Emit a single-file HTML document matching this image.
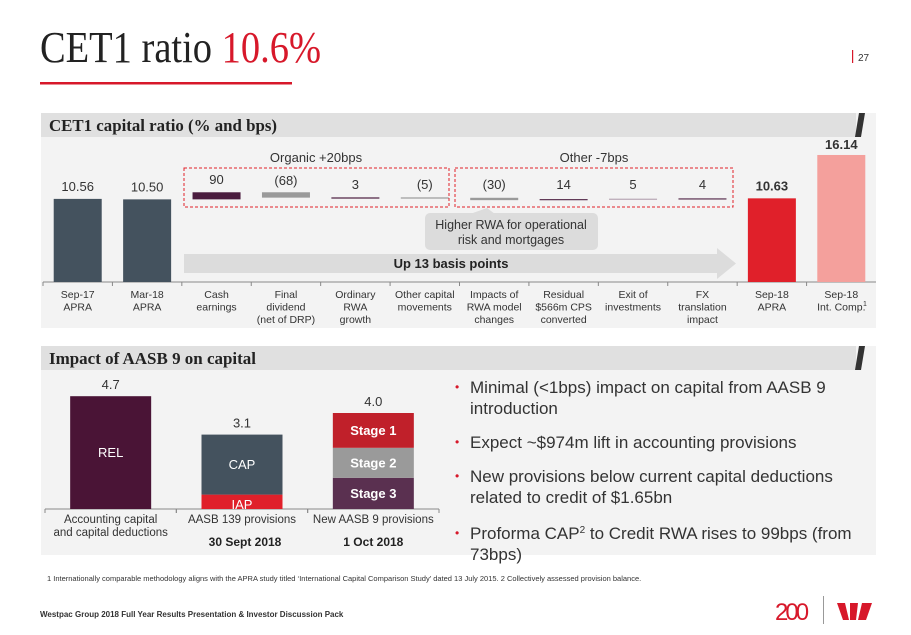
<!DOCTYPE html>
<html><head><meta charset="utf-8"><style>
body{margin:0;width:911px;height:635px;background:#fff;overflow:hidden;font-family:"Liberation Sans",sans-serif}
svg{display:block}
</style></head><body>
<svg id="s" width="911" height="635" viewBox="0 0 911 635" xmlns="http://www.w3.org/2000/svg" font-family="Liberation Sans, sans-serif">
<text x="40" y="62" font-family="Liberation Serif, serif" font-size="44" textLength="281" lengthAdjust="spacingAndGlyphs" fill="#222">CET1 ratio <tspan fill="#d7182a">10.6%</tspan></text>
<rect x="40" y="82" width="252" height="2.5" fill="#d7182a"/>
<rect x="852" y="50" width="1.2" height="13" fill="#d7182a"/>
<text x="858" y="61" font-size="10" fill="#333">27</text>

<rect x="41" y="113" width="835" height="215" fill="#f3f3f3"/>
<rect x="41" y="113" width="815" height="24" fill="#e0e0e0"/>
<polygon points="859,113 865,113 861,137 855,137" fill="#333"/>
<text x="49" y="131" font-family="Liberation Serif, serif" font-weight="bold" font-size="17" textLength="228" lengthAdjust="spacingAndGlyphs" fill="#222">CET1 capital ratio (% and bps)</text>

<g id="topchart"></g>

<rect x="184" y="168" width="265" height="39" fill="none" stroke="#e0202a" stroke-dasharray="3,2"/>
<rect x="455" y="168" width="278" height="39" fill="none" stroke="#e0202a" stroke-dasharray="3,2"/>
<text x="316" y="162" text-anchor="middle" font-size="13" fill="#333">Organic +20bps</text>
<text x="594" y="162" text-anchor="middle" font-size="13" fill="#333">Other -7bps</text>
<g>
<polygon points="470,214 487,208 495,214" fill="#dcdcdc"/>
<rect x="425" y="213" width="173" height="37" rx="5" fill="#dcdcdc"/>
<text x="511" y="229" text-anchor="middle" font-size="12.5" fill="#333">Higher RWA for operational</text>
<text x="511" y="244" text-anchor="middle" font-size="12.5" fill="#333">risk and mortgages</text>
</g>
<g>
<polygon points="184,254 717,254 717,248 736,263.5 717,279 717,273 184,273" fill="#dcdcdc"/>
<text x="451" y="268" text-anchor="middle" font-size="13" font-weight="bold" fill="#222">Up 13 basis points</text>
</g>

<rect x="41" y="346" width="835" height="209" fill="#f3f3f3"/>
<rect x="41" y="346" width="815" height="24" fill="#e0e0e0"/>
<polygon points="859,346 865,346 861,370 855,370" fill="#333"/>
<text x="49" y="364" font-family="Liberation Serif, serif" font-weight="bold" font-size="17" textLength="207" lengthAdjust="spacingAndGlyphs" fill="#222">Impact of AASB 9 on capital</text>

<g id="botchart"></g>

<g font-size="17" fill="#333">
<text x="455" y="391" fill="#d7182a" font-size="12">•</text><text x="470" y="393">Minimal (&lt;1bps) impact on capital from AASB 9</text><text x="470" y="414">introduction</text>
<text x="455" y="446" fill="#d7182a" font-size="12">•</text><text x="470" y="448">Expect ~$974m lift in accounting provisions</text>
<text x="455" y="480" fill="#d7182a" font-size="12">•</text><text x="470" y="482">New provisions below current capital deductions</text><text x="470" y="503">related to credit of $1.65bn</text>
<text x="455" y="537" fill="#d7182a" font-size="12">•</text><text x="470" y="539">Proforma CAP<tspan font-size="10" dy="-6">2</tspan><tspan dy="6"> to Credit RWA rises to 99bps (from</tspan></text><text x="470" y="560">73bps)</text>
</g>

<text x="47" y="581" font-size="7.5" fill="#333">1 Internationally comparable methodology aligns with the APRA study titled ‘International Capital Comparison Study’ dated 13 July 2015. 2 Collectively assessed provision balance.</text>
<text x="40" y="617" font-size="8" font-weight="bold" fill="#333">Westpac Group 2018 Full Year Results Presentation &amp; Investor Discussion Pack</text>
<text x="775" y="620" font-size="24" fill="#d7182a" letter-spacing="-3">200</text>
<rect x="823" y="596" width="1" height="28" fill="#999"/>
<g fill="#d7182a">
<polygon points="837,603 845,603 849,620 843,620"/>
<polygon points="850,603 858,603 856,620 850,620"/>
<polygon points="862,603 872,603 866,620 858,620"/>
</g>
</svg>
<script>
const topCats=["Sep-17|APRA","Mar-18|APRA","Cash|earnings","Final|dividend|(net of DRP)","Ordinary|RWA|growth","Other capital|movements","Impacts of|RWA model|changes","Residual|$566m CPS|converted","Exit of|investments","FX|translation|impact","Sep-18|APRA","Sep-18|Int. Comp."];
const topTotals=[10.56,10.50,null,null,null,null,null,null,null,null,10.63,16.14];
const topBps=[null,null,90,-68,3,-5,-30,14,5,4,null,null];
const topLabels=["10.56","10.50","90","(68)","3","(5)","(30)","14","5","4","10.63","16.14"];
const botCats=["Accounting capital|and capital deductions","AASB 139  provisions","New AASB 9 provisions"];
const botDates=["","30 Sept 2018","1 Oct 2018"];
const relVals=[4.7,0,0];
const capVals=[0,2.5,0];
const iapVals=[0,0.6,0];
const stage3=[0,0,1.3];
const stage2=[0,0,1.25];
const stage1=[0,0,1.45];
const botLabels=["4.7","3.1","4.0"];

const NS="http://www.w3.org/2000/svg";
function mk(parent,tag,attrs,txt){const e=document.createElementNS(NS,tag);for(const k in attrs)e.setAttribute(k,attrs[k]);if(txt!==undefined)e.textContent=txt;parent.appendChild(e);return e;}
const topG=document.getElementById('topchart');
const x0=43,cw=(876-43)/topCats.length,base=282,ppu=7.87;
const yS=v=>base-v*ppu;
const cx=i=>x0+cw*i+cw/2;
const axl=mk(topG,'line',{x1:43,x2:876,y1:base,y2:base,stroke:'#888'});


const totColors=['#44525e','#44525e','','','','','','','','','#e0202a','#f4a09c'];
let cum=topTotals[1];
topCats.forEach((c,i)=>{
  const tk=mk(topG,'line',{x1:x0+cw*i,x2:x0+cw*i,y1:base,y2:base+4,stroke:'#888'});
  
  
  let topY;
  if(topTotals[i]!==null){
    const r=mk(topG,'rect',{x:cx(i)-24,y:yS(topTotals[i]),width:48,height:base-yS(topTotals[i]),fill:totColors[i]});
    
    
    topY=yS(topTotals[i]);
  } else {
    const d=topBps[i]/100,a=cum,b=cum+d;cum=b;
    const y1=Math.min(yS(a),yS(b)),h=Math.max(1.2,Math.abs(yS(a)-yS(b)));
    const col=topBps[i]<0?'#9a9a9a':(i<=5?'#4a1c3e':(i==8?'#b8a6b4':'#5a3050'));
    const r=mk(topG,'rect',{x:cx(i)-24,y:y1,width:48,height:h,fill:col});
    
    
    topY=y1;
  }
  const bold=i>=10;
  const ly=i==11?topY-6:(topTotals[i]!==null?topY-8:(i==2?184:(i==3?185:189)));
  const t=mk(topG,'text',{x:cx(i),y:ly,'text-anchor':'middle','font-size':13,'font-weight':bold?'bold':'normal',fill:'#333'},topLabels[i]);
  
  
  c.split('|').forEach((p,j)=>{
    const lt=mk(topG,'text',{x:cx(i),y:298+j*12.5,'text-anchor':'middle','font-size':10.5,fill:'#333'},p);
    
    
  });
});
const fn=mk(topG,'text',{x:863,y:306,'font-size':7,fill:'#333'},'1');



const botG=document.getElementById('botchart');
const bx0=45,bw=(439-45)/3,bb=509,bp=24;
const by=v=>bb-v*bp;
const bl=mk(botG,'line',{x1:45,x2:439,y1:bb,y2:bb,stroke:'#888'});


const segs=[[relVals,'#4a1436','REL'],[iapVals,'#e0202a','IAP'],[capVals,'#44525e','CAP'],[stage3,'#5a3050','Stage 3'],[stage2,'#9a9a9a','Stage 2'],[stage1,'#c0202a','Stage 1']];
botCats.forEach((c,i)=>{
  const mx=bx0+bw*i+bw/2;
  for(const k of [0,1]){const t=mk(botG,'line',{x1:bx0+bw*(i+k),x2:bx0+bw*(i+k),y1:bb,y2:bb+4,stroke:'#888'});}
  let acc=0;
  segs.forEach(([arr,col,name])=>{
    const v=arr[i];if(!v)return;
    const r=mk(botG,'rect',{x:mx-40.5,y:by(acc+v),width:81,height:v*bp,fill:col});
    
    
    const ty=name=='IAP'?by(acc+v)+v*bp/2+7:by(acc+v)+v*bp/2+4.5;
    const t=mk(botG,'text',{x:mx,y:ty,'text-anchor':'middle','font-size':13,'font-weight':name.startsWith('Stage')?'bold':'normal',fill:'#fff'},name);
    
    
    acc+=v;
  });
  const vl=mk(botG,'text',{x:mx,y:by(acc)-7,'text-anchor':'middle','font-size':13,fill:'#333'},botLabels[i]);
  
  
  c.split('|').forEach((p,j)=>{
    const t=mk(botG,'text',{x:mx,y:523+j*13,'text-anchor':'middle','font-size':11.5,fill:'#333'},p);
    
    
  });
  if(botDates[i]){
    const d=mk(botG,'text',{x:mx+(i==1?3:0),y:546,'text-anchor':'middle','font-size':12,'font-weight':'bold',fill:'#222'},botDates[i]);
    
    
  }
});
</script>
</body></html>
